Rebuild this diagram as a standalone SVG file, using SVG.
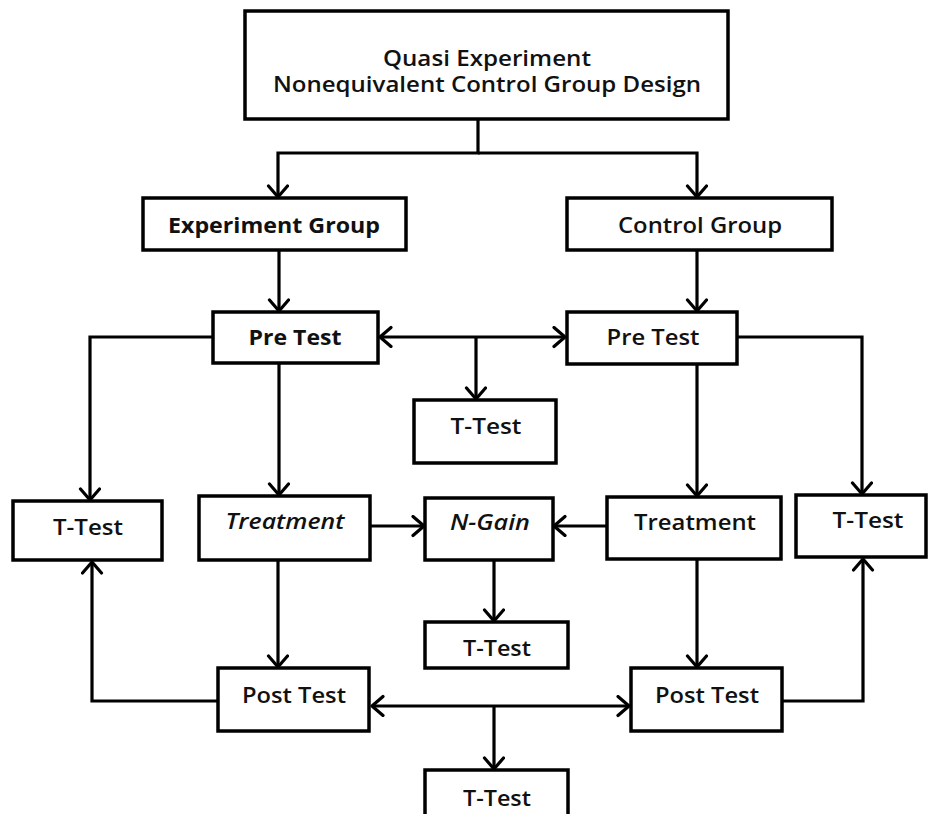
<svg xmlns="http://www.w3.org/2000/svg" width="936" height="814" viewBox="0 0 936 814">
<defs>
<marker id="arr" markerUnits="userSpaceOnUse" markerWidth="26" markerHeight="26" refX="13" refY="11" orient="auto-start-reverse" viewBox="0 0 26 26">
<path d="M2,1.5 L13,11 L2,20.5" fill="none" stroke="#000" stroke-width="3.2" stroke-linecap="round" stroke-linejoin="round"/>
</marker>
<style>
rect.b{fill:#fff;stroke:#000;stroke-width:3.5}
text{font-family:"Open Sans","Liberation Sans",Arial,sans-serif;font-size:21px;font-weight:600;fill:#111;text-anchor:middle}
.sb{font-weight:700}
.it{font-style:italic}
.c path{fill:none;stroke:#000;stroke-width:3.2}
.c path.a{marker-end:url(#arr)}
.c path.d{marker-start:url(#arr);marker-end:url(#arr)}
</style>
</defs>
<rect width="936" height="814" fill="#fff"/>
<g class="c" id="connectors">
<path class="a" d="M478,119 V153 H278 V197"/>
<path class="a" d="M478,153 H697 V197"/>
<path class="a" d="M279,250 V311"/>
<path class="a" d="M697,250 V311"/>
<path class="d" d="M380,337 H565"/>
<path class="a" d="M476,337 V399"/>
<path class="a" d="M213,337 H90 V500"/>
<path class="a" d="M737,337 H862 V494"/>
<path class="a" d="M279,363 V495"/>
<path class="a" d="M697,364 V496"/>
<path class="a" d="M370,526 H424"/>
<path class="a" d="M607,526 H554"/>
<path class="a" d="M494,560 V621"/>
<path class="a" d="M278,560 V667"/>
<path class="a" d="M697,559 V667"/>
<path class="a" d="M218,701 H92 V562"/>
<path class="a" d="M782,701 H863 V559"/>
<path class="d" d="M372,706 H629"/>
<path class="a" d="M494,706 V769"/>
</g>
<g id="top"><rect class="b" x="245" y="11" width="483" height="108"/>
<text x="487" y="66" textLength="208" lengthAdjust="spacingAndGlyphs">Quasi Experiment</text>
<text x="487" y="92" textLength="428" lengthAdjust="spacingAndGlyphs">Nonequivalent Control Group Design</text></g>
<g id="expGroup"><rect class="b" x="143" y="198" width="263" height="52"/>
<text class="sb" x="274" y="233" textLength="212" lengthAdjust="spacingAndGlyphs">Experiment Group</text></g>
<g id="ctrlGroup"><rect class="b" x="567" y="198" width="265" height="52"/>
<text x="700" y="233" textLength="164" lengthAdjust="spacingAndGlyphs">Control Group</text></g>
<g id="expPre"><rect class="b" x="213" y="312" width="165" height="51"/>
<text class="sb" x="295" y="345" textLength="93" lengthAdjust="spacingAndGlyphs">Pre Test</text></g>
<g id="ctrlPre"><rect class="b" x="567" y="312" width="170" height="52"/>
<text x="653" y="345" textLength="93" lengthAdjust="spacingAndGlyphs">Pre Test</text></g>
<g id="tPre"><rect class="b" x="414" y="400" width="142" height="63"/>
<text x="486" y="434" textLength="71" lengthAdjust="spacingAndGlyphs">T-Test</text></g>
<g id="tLeft"><rect class="b" x="13" y="501" width="149" height="59"/>
<text x="88" y="535" textLength="70" lengthAdjust="spacingAndGlyphs">T-Test</text></g>
<g id="expTreat"><rect class="b" x="199" y="496" width="171" height="64"/>
<text class="it" x="285" y="529" textLength="119" lengthAdjust="spacingAndGlyphs">Treatment</text></g>
<g id="nGain"><rect class="b" x="425" y="498" width="128" height="62"/>
<text class="it" x="490" y="530" textLength="80" lengthAdjust="spacingAndGlyphs">N-Gain</text></g>
<g id="ctrlTreat"><rect class="b" x="607" y="497" width="174" height="62"/>
<text x="695" y="530" textLength="122" lengthAdjust="spacingAndGlyphs">Treatment</text></g>
<g id="tRight"><rect class="b" x="796" y="495" width="130" height="62"/>
<text x="868" y="528" textLength="71" lengthAdjust="spacingAndGlyphs">T-Test</text></g>
<g id="tGain"><rect class="b" x="425" y="622" width="143" height="46"/>
<text x="497" y="656" textLength="68" lengthAdjust="spacingAndGlyphs">T-Test</text></g>
<g id="expPost"><rect class="b" x="218" y="668" width="151" height="63"/>
<text x="294" y="703" textLength="104" lengthAdjust="spacingAndGlyphs">Post Test</text></g>
<g id="ctrlPost"><rect class="b" x="631" y="668" width="151" height="63"/>
<text x="707" y="703" textLength="104" lengthAdjust="spacingAndGlyphs">Post Test</text></g>
<g id="tPost"><rect class="b" x="425" y="770" width="143" height="60"/>
<text x="497" y="806" textLength="68" lengthAdjust="spacingAndGlyphs">T-Test</text></g>
</svg>
